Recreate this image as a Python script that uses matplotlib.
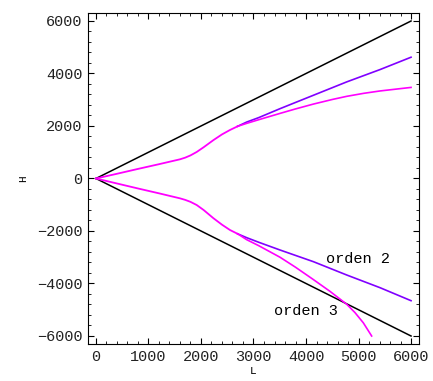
import matplotlib
matplotlib.use('Agg')
import matplotlib.pyplot as plt
from matplotlib.ticker import MultipleLocator

# Black limits: H = +/- L
x_lim = [0, 6000]
y_lim_up = [0, 6000]
y_lim_down = [0, -6000]

# Shared part (orden 2 and orden 3 coincide at small L)
x_common = [0, 400, 800, 1200, 1600, 1700, 1800, 1918, 2050, 2235, 2400, 2552, 2700]
y_common_up = [0, 180, 365, 545, 731, 795, 880, 1010, 1190, 1460, 1680, 1848, 1990]
y_common_down = [0, -190, -380, -565, -756, -815, -890, -1010, -1200, -1510, -1760, -1962, -2110]

# orden 2 (blue)
x_o2 = [2700, 2870, 3100, 3505, 4140, 4775, 5410, 6000]
y_o2_up = [1990, 2150, 2320, 2660, 3170, 3680, 4150, 4620]
y_o2_down = [-2110, -2254, -2430, -2724, -3168, -3676, -4160, -4655]

# orden 3 (magenta)
x_o3_up = [2700, 2870, 3100, 3505, 3800, 4140, 4500, 4775, 5100, 5410, 6000]
y_o3_up = [1990, 2100, 2240, 2480, 2650, 2835, 3010, 3130, 3245, 3335, 3470]
x_o3_down = [2700, 2870, 3100, 3505, 3800, 4140, 4457, 4775, 4933, 5092, 5250]
y_o3_down = [-2110, -2330, -2560, -3000, -3380, -3850, -4300, -4790, -5110, -5500, -6000]

blue = '#8000ff'
magenta = '#ff00ff'
mono = 'Liberation Mono'

fig = plt.figure(figsize=(4.33, 3.81), dpi=100)
ax = fig.add_axes([0.2032, 0.0971, 0.7645, 0.8688])

ax.plot(x_lim, y_lim_up, color='black', lw=1.1)
ax.plot(x_lim, y_lim_down, color='black', lw=1.1)
ax.plot(x_o2, y_o2_up, color=blue, lw=1.2)
ax.plot(x_o2, y_o2_down, color=blue, lw=1.2)
ax.plot(x_o3_up, y_o3_up, color=magenta, lw=1.2)
ax.plot(x_o3_down, y_o3_down, color=magenta, lw=1.2)
ax.plot(x_common, y_common_up, color=magenta, lw=1.3)
ax.plot(x_common, y_common_down, color=magenta, lw=1.3)

ax.text(4990, -3067, 'orden 2', family=mono, fontsize=11, ha='center', va='center')
ax.text(4000, -5036, 'orden 3', family=mono, fontsize=11, ha='center', va='center')

ax.set_xlim(-152, 6152)
ax.set_ylim(-6305, 6305)
ax.xaxis.set_major_locator(MultipleLocator(1000))
ax.xaxis.set_minor_locator(MultipleLocator(200))
ax.yaxis.set_major_locator(MultipleLocator(2000))
ax.yaxis.set_minor_locator(MultipleLocator(400))
ax.tick_params(which='both', direction='in', top=True, right=True,
               labeltop=False, labelright=False)
ax.tick_params(which='major', length=4, width=0.8, labelsize=11, pad=4)
ax.tick_params(which='minor', length=2, width=0.6)
for lab in ax.get_xticklabels() + ax.get_yticklabels():
    lab.set_family(mono)
    lab.set_color('#222222')

ax.set_xlabel('L', family=mono, fontsize=8, labelpad=2)
ax.set_ylabel('H', family=mono, fontsize=8, labelpad=6)

fig.savefig('out.png', dpi=100)
